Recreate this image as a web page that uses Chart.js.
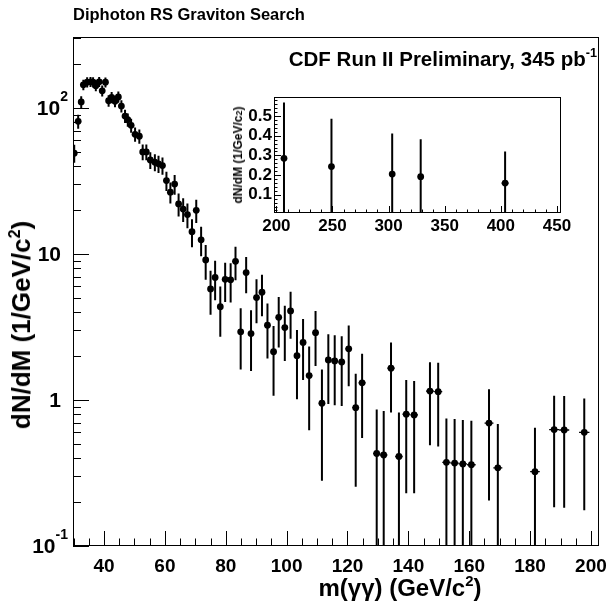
<!DOCTYPE html>
<html>
<head>
<meta charset="utf-8">
<script src="https://cdn.jsdelivr.net/npm/chart.js@4.4.1/dist/chart.umd.min.js"></script>
<style>
html,body{margin:0;padding:0;background:#fff;}
#wrap{position:relative;width:616px;height:611px;overflow:hidden;font-family:"Liberation Sans",Arial,Helvetica,sans-serif;font-weight:bold;color:#000;}
#mainCanvas{position:absolute;left:0;top:0;}
#insetBox{position:absolute;left:225px;top:85px;width:355px;height:155px;}
.t{position:absolute;white-space:nowrap;line-height:1;}
.t sup{font-size:62%;position:relative;top:-0.15em;vertical-align:top;}
.small{font-size:75%;}
</style>
</head>
<body>
<div id="wrap">
  <canvas id="mainCanvas" width="616" height="611"></canvas>
  <div id="insetBox"><canvas id="insetCanvas" width="355" height="155"></canvas></div>
  <div class="t" id="title" style="left:73px;top:6px;font-size:16.5px;">Diphoton RS Graviton Search</div>
  <div class="t" id="cdf" style="right:19px;top:49px;font-size:20.5px;">CDF Run II Preliminary, 345 pb<sup>-1</sup></div>
  <div class="t" id="xtitle" style="left:400px;top:576px;font-size:24px;transform:translateX(-50%);">m(γγ) (GeV/c<sup>2</sup>)</div>
  <div class="t" id="ytitle" style="left:21px;top:325px;font-size:26px;transform:translate(-50%,-50%) rotate(-90deg);">dN/dM (1/GeV/c<sup>2</sup>)</div>
  <div class="t" id="iytitle" style="left:238px;top:155px;font-size:12px;transform:translate(-50%,-50%) rotate(-90deg);">dN/dM (1/GeV/c<span class="small">2</span>)</div>
</div>
<script>
// ---- main histogram: diphoton mass spectrum (dN/dM, 1/GeV/c^2) ----
const massBins = [30.2,31.5,32.5,33.2,34.45,35.56,36.4,37.3,38.4,39.4,
  40.46,41.5,42.5,43.6,44.7,45.7,46.9,47.8,48.9,
  50.2,51.6,52.7,53.9,55.2,56.7,57.9,59.2,
  60.5,61.8,63.2,64.5,66.0,67.4,68.9,70.3,71.9,
  73.4,75.0,76.5,78.2,79.8,81.6,83.2,84.9,86.7,88.3,
  90.1,91.9,93.7,95.7,97.4,99.4,101.3,103.4,105.4,107.4,
  109.5,111.6,113.7,115.8,118.1,120.4,122.7,124.8,
  129.6,131.9,134.3,136.9,139.3,141.9,
  147.1,149.8,152.5,155.2,157.9,160.7,
  166.5,169.4,181.6,187.9,191.2,197.8];
const dNdM = [49,81,110,144,150,151,150,142,151,131,
  150,112,118,111,119,103,88,83,76,
  66,64,50,50,44,42.5,41.4,40.3,
  31.8,26.5,30.1,22,20.3,18.6,14.2,19.9,12.5,
  9.1,5.76,6.9,4.35,6.7,6.65,8.9,2.93,7.45,2.85,
  5.03,5.47,3.25,2.14,3.68,3.13,4.07,2.01,2.48,1.47,
  2.89,0.95,1.88,1.85,1.82,2.24,0.885,1.31,
  0.43,0.42,1.65,0.41,0.80,0.79,
  1.15,1.14,0.374,0.37,0.365,0.36,
  0.695,0.343,0.323,0.627,0.623,0.60];
const dNdMErr = [6.9,8.9,10.4,11.9,12.1,12.1,12.1,11.8,12.1,11.3,
  11.8,10.2,10.4,10.1,10.5,9.8,9.0,8.7,8.4,
  7.4,7.2,6.25,6.25,5.8,5.7,5.6,5.5,
  4.8,4.36,4.64,3.95,3.77,3.58,3.1,3.63,2.87,
  2.43,1.92,2.08,1.64,2.02,2.0,2.3,1.31,2.07,1.27,
  1.68,1.73,1.33,1.07,1.39,1.28,1.44,1.0,1.11,0.85,
  1.18,0.67,0.94,0.93,0.91,1.0,0.63,0.76,
  0.43,0.42,0.83,0.41,0.57,0.56,
  0.66,0.66,0.374,0.37,0.365,0.36,
  0.49,0.343,0.323,0.443,0.44,0.424];
const binHalfWidth = [0.5,0.5,0.5,0.5,0.5,0.5,0.5,0.5,0.5,0.5,
  0.54,0.54,0.54,0.54,0.54,0.54,0.54,0.54,0.54,
  0.6,0.62,0.63,0.64,0.65,0.66,0.67,0.68,
  0.68,0.69,0.7,0.7,0.71,0.72,0.74,0.75,0.76,
  0.78,0.79,0.8,0.81,0.82,0.84,0.85,0.86,0.87,0.88,
  0.89,0.9,0.91,0.93,0.94,0.96,0.97,0.99,1.0,1.02,
  1.03,1.05,1.06,1.08,1.1,1.11,1.13,1.15,
  1.18,1.2,1.21,1.23,1.25,1.27,
  1.31,1.33,1.35,1.37,1.39,1.41,
  1.46,1.48,1.58,1.63,1.66,1.7];
const xTickValues = [40,60,80,100,120,140,160,180,200];
const yDecadeTicks = [0.1,1,10,100];
const yDecadeLabels = [["10","-1"],["1",""],["10",""],["10","2"]];

// ---- inset: high-mass tail ----
const insetMass = [206.8,249.1,303.2,328.6,403.8];
const insetValues = [0.285,0.243,0.205,0.192,0.159];
const insetErr = [0.284,0.243,0.207,0.19,0.161];
const insetHalfWidth = [1.75,2.05,2.45,2.6,3.15];
const insetXTicks = [200,250,300,350,400,450];
const insetYTicks = [0.1,0.2,0.3,0.4,0.5];

const FONT = '"Liberation Sans", Arial, sans-serif';

const errBars = {
  id: 'errbars',
  beforeDatasetsDraw(chart, args, o) {
    const {ctx, chartArea: a} = chart;
    const x = chart.scales.x, y = chart.scales.y;
    ctx.save();
    ctx.beginPath();
    ctx.rect(a.left, a.top, a.right - a.left, a.bottom - a.top);
    ctx.clip();
    ctx.strokeStyle = '#000';
    for (let i = 0; i < o.xs.length; i++) {
      const px = x.getPixelForValue(o.xs[i]);
      const py = y.getPixelForValue(o.ys[i]);
      const hiV = o.ys[i] + o.es[i];
      const loV = o.ys[i] - o.es[i];
      const hi = y.getPixelForValue(hiV);
      const lo = loV > y.min ? y.getPixelForValue(loV) : a.bottom;
      ctx.lineWidth = o.lw;
      ctx.beginPath(); ctx.moveTo(px, hi); ctx.lineTo(px, lo); ctx.stroke();
      ctx.lineWidth = 1.3;
      ctx.beginPath();
      ctx.moveTo(x.getPixelForValue(o.xs[i] - o.hw[i]), py);
      ctx.lineTo(x.getPixelForValue(o.xs[i] + o.hw[i]), py);
      ctx.stroke();
    }
    ctx.restore();
  }
};

const frameTicks = {
  id: 'frameticks',
  afterDraw(chart, args, o) {
    const {ctx, chartArea: a} = chart;
    const x = chart.scales.x, y = chart.scales.y;
    ctx.save();
    ctx.strokeStyle = '#000';
    ctx.lineWidth = 1;
    ctx.strokeRect(Math.round(a.left) + 0.5, Math.round(a.top) + 0.5,
      Math.round(a.right - a.left) - 1, Math.round(a.bottom - a.top) - 1);
    ctx.beginPath();
    for (const t of o.xTicks()) {
      if (t.v < x.min || t.v > x.max) continue;
      const px = Math.round(x.getPixelForValue(t.v)) + 0.5;
      ctx.moveTo(px, a.bottom); ctx.lineTo(px, a.bottom - t.len);
    }
    for (const t of o.yTicks()) {
      if (t.v < y.min || t.v > y.max) continue;
      const py = Math.round(y.getPixelForValue(t.v)) + 0.5;
      ctx.moveTo(a.left, py); ctx.lineTo(a.left + t.len, py);
    }
    ctx.stroke();
    if (o.yLabels) o.yLabels(ctx, y, a);
    ctx.restore();
  }
};

// main chart
new Chart(document.getElementById('mainCanvas'), {
  type: 'scatter',
  data: { datasets: [{
    data: massBins.map((m, i) => ({x: m, y: dNdM[i]})),
    pointRadius: 3.4, pointHoverRadius: 3.4,
    pointBackgroundColor: '#000', pointBorderWidth: 0, showLine: false
  }]},
  options: {
    responsive: false, animation: false, devicePixelRatio: 1,
    layout: { padding: { left: 0, top: 37, right: 13, bottom: 0 } },
    plugins: {
      legend: { display: false }, tooltip: { enabled: false },
      errbars: { xs: massBins, ys: dNdM, es: dNdMErr, hw: binHalfWidth, lw: 2 },
      frameticks: {
        xTicks: () => {
          const r = [];
          for (let v = 30; v <= 200; v += 5) r.push({v, len: (v % 20 === 0) ? 15 : 7.5});
          return r;
        },
        yTicks: () => {
          const r = [];
          for (const d of yDecadeTicks) {
            r.push({v: d, len: 16});
            for (let k = 2; k <= 9; k++) r.push({v: d * k, len: 8});
          }
          return r;
        },
        yLabels: (ctx, y, a) => {
          ctx.fillStyle = '#000';
          ctx.textBaseline = 'middle';
          yDecadeTicks.forEach((v, i) => {
            const [base, sup] = yDecadeLabels[i];
            const py = y.getPixelForValue(v) + 1;
            ctx.font = 'bold 14px ' + FONT;
            const sw = sup ? ctx.measureText(sup).width : 0;
            const right = sup ? 68 : 61;
            if (sup) { ctx.textAlign = 'right'; ctx.fillText(sup, right, py - 12); }
            ctx.font = 'bold 21px ' + FONT;
            ctx.textAlign = 'right';
            ctx.fillText(base, right - sw, py);
          });
        }
      }
    },
    scales: {
      x: {
        type: 'linear', min: 29.8, max: 202.6,
        afterBuildTicks: s => { s.ticks = xTickValues.map(v => ({value: v})); },
        afterFit: s => { s.height = 65; },
        grid: { display: false, drawTicks: false }, border: { display: false },
        ticks: { color: '#000', font: { family: FONT, size: 19, weight: 'bold' }, padding: 9, maxRotation: 0, autoSkip: false }
      },
      y: {
        type: 'logarithmic', min: 0.1, max: 306,
        afterFit: s => { s.width = 73; },
        grid: { display: false, drawTicks: false }, border: { display: false },
        ticks: { display: false }
      }
    }
  },
  plugins: [errBars, frameTicks]
});

// inset chart
new Chart(document.getElementById('insetCanvas'), {
  type: 'scatter',
  data: { datasets: [{
    data: insetMass.map((m, i) => ({x: m, y: insetValues[i]})),
    pointRadius: 3.4, pointHoverRadius: 3.4,
    pointBackgroundColor: '#000', pointBorderWidth: 0, showLine: false
  }]},
  options: {
    responsive: false, animation: false, devicePixelRatio: 1,
    layout: { padding: { left: 0, top: 6, right: 19, bottom: 0 } },
    plugins: {
      legend: { display: false }, tooltip: { enabled: false },
      errbars: { xs: insetMass, ys: insetValues, es: insetErr, hw: insetHalfWidth, lw: 2 },
      frameticks: {
        xTicks: () => {
          const r = [];
          for (let v = 200; v <= 450; v += 10) r.push({v, len: (v % 50 === 0) ? 7 : 3.5});
          return r;
        },
        yTicks: () => {
          const r = [];
          for (let k = 1; k <= 29; k++) {
            const v = k * 0.02;
            r.push({v, len: (k % 5 === 0) ? 7 : 3.5});
          }
          return r;
        }
      }
    },
    scales: {
      x: {
        type: 'linear', min: 197.9, max: 453.6,
        afterBuildTicks: s => { s.ticks = insetXTicks.map(v => ({value: v})); },
        afterFit: s => { s.height = 27; },
        grid: { display: false, drawTicks: false }, border: { display: false },
        ticks: { color: '#000', font: { family: FONT, size: 17, weight: 'bold' }, padding: 3, maxRotation: 0, autoSkip: false }
      },
      y: {
        type: 'linear', min: 0.007, max: 0.596,
        afterBuildTicks: s => { s.ticks = insetYTicks.map(v => ({value: v})); },
        afterFit: s => { s.width = 49; },
        grid: { display: false, drawTicks: false }, border: { display: false },
        ticks: { color: '#000', font: { family: FONT, size: 17, weight: 'bold' }, padding: 2, callback: v => v.toFixed(1) }
      }
    }
  },
  plugins: [errBars, frameTicks]
});
</script>
</body>
</html>
